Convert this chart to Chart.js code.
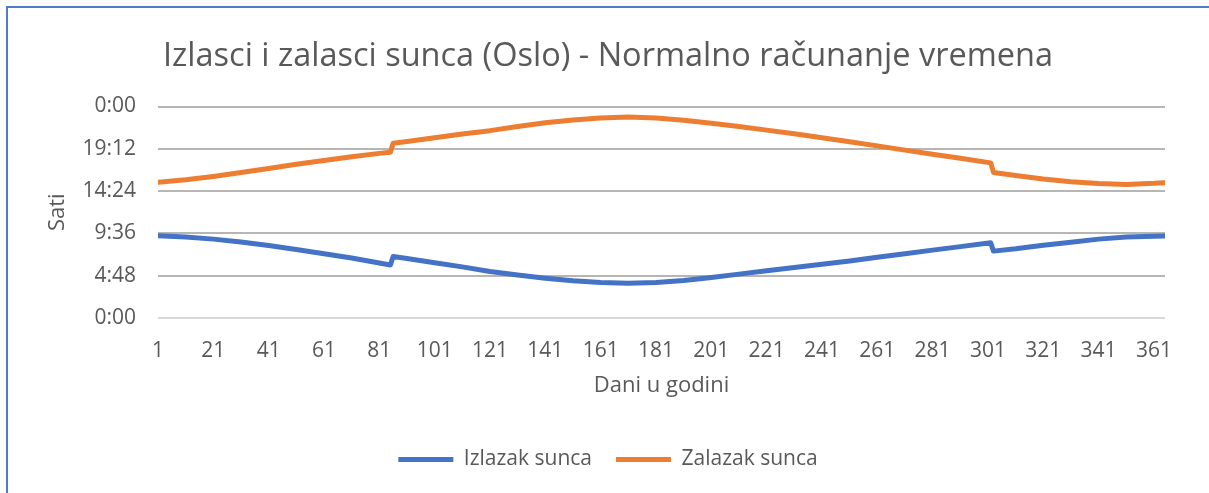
<!DOCTYPE html>
<html>
<head>
<meta charset="utf-8">
<script src="https://cdn.jsdelivr.net/npm/chart.js@4"></script>
<style>
    body { margin: 0; background: #fff; }
    #frame {
        position: absolute; left: 6px; top: 6px; width: 1203px; height: 487px;
        border-top: 2px solid #4f7cc6; border-left: 2px solid #4f7cc6;
        box-sizing: border-box;
    }
    #wrap { position: absolute; left: 0; top: 0; width: 1209px; height: 493px; }
</style>
</head>
<body>
<div id="frame"></div>
<div id="wrap"><canvas id="sunChart"></canvas></div>
<script>
const days = [1, 11, 21, 31, 41, 51, 61, 71, 81, 85, 86, 91, 101, 111, 121, 131, 141, 151, 161, 171,
    181, 191, 201, 211, 221, 231, 241, 251, 261, 271, 281, 291, 302, 303, 311, 321, 331, 341, 351, 361, 365];

// hours of the day
const sunrise = [9.33, 9.18, 8.95, 8.62, 8.22, 7.78, 7.30, 6.80, 6.25, 6.02, 6.98, 6.75, 6.28, 5.80, 5.28, 4.88,
    4.52, 4.22, 4.02, 3.94, 4.02, 4.25, 4.60, 4.98, 5.36, 5.74, 6.10, 6.48, 6.90, 7.28, 7.70, 8.10, 8.55,
    7.59, 7.85, 8.25, 8.60, 8.95, 9.18, 9.28, 9.30];

const sunset = [15.40, 15.68, 16.06, 16.50, 16.97, 17.45, 17.88, 18.30, 18.68, 18.80, 19.84, 20.02, 20.45, 20.88,
    21.26, 21.72, 22.15, 22.48, 22.70, 22.80, 22.70, 22.44, 22.10, 21.72, 21.32, 20.90, 20.45, 20.00, 19.53,
    19.05, 18.58, 18.12, 17.60, 16.52, 16.18, 15.78, 15.47, 15.26, 15.16, 15.28, 15.36];

const dayTicks = [1, 21, 41, 61, 81, 101, 121, 141, 161, 181, 201, 221, 241, 261, 281, 301, 321, 341, 361];
const hourTicks = [0, 4.8, 9.6, 14.4, 19.2, 24];
const hourLabels = ['0:00', '4:48', '9:36', '14:24', '19:12', '0:00'];

const textColor = '#595959';
const fontFamily = '"Open Sans", "Noto Sans", sans-serif';

const Charts = {
    initialize: function() {
        this.createSunChart();
    },

    toPoints: function(values) {
        return days.map((d, i) => ({ x: d, y: values[i] }));
    },

    createSunChart: function() {
        let ctx = document.getElementById('sunChart').getContext('2d');
        window.sunChart = new Chart(ctx, {
            type: 'line',
            data: {
                datasets: [{
                    label: 'Izlazak sunca',
                    data: this.toPoints(sunrise),
                    borderColor: '#4472c4',
                    backgroundColor: '#4472c4',
                    borderWidth: 5,
                    borderCapStyle: 'round',
                    borderJoinStyle: 'round',
                    pointRadius: 0,
                    tension: 0
                }, {
                    label: 'Zalazak sunca',
                    data: this.toPoints(sunset),
                    borderColor: '#ed7d31',
                    backgroundColor: '#ed7d31',
                    borderWidth: 5,
                    borderCapStyle: 'round',
                    borderJoinStyle: 'round',
                    pointRadius: 0,
                    tension: 0
                }]
            },
            options: {
                responsive: true,
                maintainAspectRatio: false,
                animation: false,
                layout: { padding: { left: 51, right: 44, top: 0, bottom: 13 } },
                plugins: {
                    title: {
                        display: true,
                        text: 'Izlasci i zalasci sunca (Oslo) - Normalno računanje vremena',
                        color: textColor,
                        font: { family: fontFamily, size: 32.5, weight: 'normal' },
                        padding: { top: 37, bottom: 30.5 }
                    },
                    legend: {
                        position: 'bottom',
                        labels: {
                            color: textColor,
                            font: { family: fontFamily, size: 21 },
                            usePointStyle: true,
                            pointStyle: 'line',
                            pointStyleWidth: 55,
                            padding: 24
                        }
                    },
                    tooltip: { enabled: false }
                },
                scales: {
                    x: {
                        type: 'linear',
                        min: 1,
                        max: 365,
                        afterBuildTicks: scale => {
                            scale.ticks = dayTicks.map(v => ({ value: v }));
                        },
                        afterFit: scale => {
                            scale.height = 107;
                        },
                        grid: { display: false },
                        border: { display: false },
                        ticks: {
                            color: textColor,
                            font: { family: fontFamily, size: 21 },
                            padding: 12,
                            maxRotation: 0,
                            autoSkip: false
                        },
                        title: {
                            display: true,
                            text: 'Dani u godini',
                            color: textColor,
                            font: { family: fontFamily, size: 22 },
                            padding: { top: 0, bottom: 26 }
                        }
                    },
                    y: {
                        min: 0,
                        max: 24,
                        afterBuildTicks: scale => {
                            scale.ticks = hourTicks.map(v => ({ value: v }));
                        },
                        afterFit: scale => {
                            scale.width = 107;
                        },
                        grid: {
                            drawTicks: false,
                            lineWidth: 2,
                            color: c => c.tick && c.tick.value === 0 ? '#d9d9d9' : '#b8b5b5'
                        },
                        border: { display: false },
                        ticks: {
                            color: textColor,
                            font: { family: fontFamily, size: 21 },
                            padding: 22,
                            callback: (v, i) => hourLabels[i]
                        },
                        title: {
                            display: true,
                            text: 'Sati',
                            color: textColor,
                            font: { family: fontFamily, size: 22 },
                            padding: { top: -6, bottom: 0 }
                        }
                    }
                }
            }
        });
    }
};

document.addEventListener('DOMContentLoaded', function() {
    Charts.initialize();
});
</script>
</body>
</html>
